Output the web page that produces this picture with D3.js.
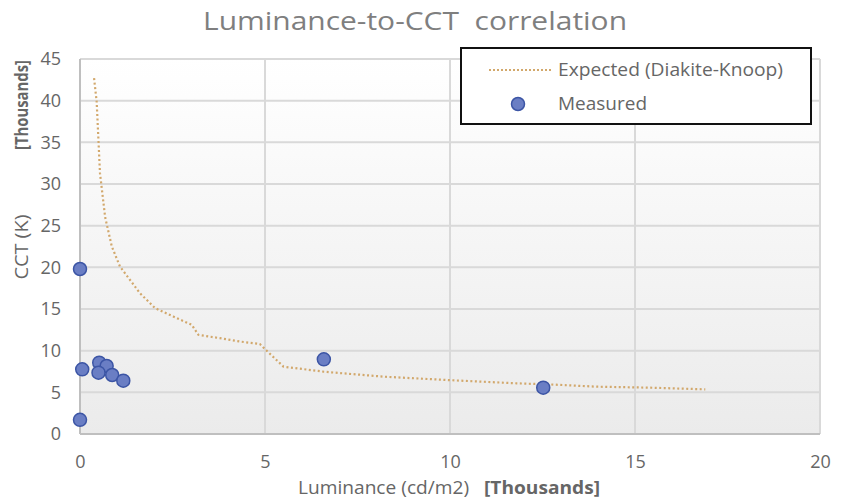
<!DOCTYPE html>
<html><head><meta charset="utf-8">
<script src="https://cdn.jsdelivr.net/npm/d3@7"></script>
<style>body{margin:0;background:#fff}svg{display:block}text{white-space:pre}</style>
</head><body>
<script>
// Data (thousands)
const expectedX = [0.38,0.45,0.54,0.68,0.86,1.08,1.62,2.03,2.52,3.02,3.2,3.78,4.32,4.86,4.95,5.5,6.58,8.2,9.91,11.8,12.7,13.96,15.4,16.9];
const expectedY = [42.7,39.9,31.3,26.0,22.5,20.1,16.9,15.1,14.1,13.1,11.9,11.5,11.1,10.8,10.4,8.08,7.48,6.88,6.48,6.08,5.95,5.68,5.56,5.36];
const measuredX = [0.0,0.0,0.06,0.52,0.72,0.50,0.87,1.17,6.59,12.52];
const measuredY = [19.8,1.7,7.76,8.56,8.16,7.36,7.08,6.4,8.96,5.56];
const xTicks = [0,5,10,15,20];
const yTicks = [0,5,10,15,20,25,30,35,40,45];
const seriesNames = ["Expected (Diakite-Knoop)","Measured"];

const W=843,H=501;
const svg=d3.select("body").append("svg").attr("width",W).attr("height",H);
const defs=svg.append("defs");
const g=defs.append("linearGradient").attr("id","bg").attr("x1",0).attr("y1",0).attr("x2",0).attr("y2",1);
g.append("stop").attr("offset","0%").attr("stop-color","#ffffff");
g.append("stop").attr("offset","100%").attr("stop-color","#ebebeb");

const x=d3.scaleLinear().domain([0,20]).range([80,820]);
const y=d3.scaleLinear().domain([0,45]).range([434,59]);
const font="'Open Sans', 'Liberation Sans', sans-serif";

svg.append("rect").attr("x",x(0)).attr("y",y(45)).attr("width",x(20)-x(0)).attr("height",y(0)-y(45)).attr("fill","url(#bg)");

// grid
svg.append("g").selectAll("line").data(yTicks).join("line")
  .attr("x1",x(0)).attr("x2",x(20)).attr("y1",d=>y(d)).attr("y2",d=>y(d))
  .attr("stroke","#d9d9d9").attr("stroke-width",2);
svg.append("g").selectAll("line").data(xTicks).join("line")
  .attr("y1",y(0)).attr("y2",y(45)).attr("x1",d=>x(d)).attr("x2",d=>x(d))
  .attr("stroke","#d9d9d9").attr("stroke-width",2);
// axis lines
svg.append("line").attr("x1",x(0)).attr("x2",x(0)).attr("y1",y(0)).attr("y2",y(45)).attr("stroke","#bfbfbf").attr("stroke-width",2);
svg.append("line").attr("x1",x(0)).attr("x2",x(20)).attr("y1",y(0)).attr("y2",y(0)).attr("stroke","#bfbfbf").attr("stroke-width",2);

// axes labels via d3 axes
const xa=svg.append("g").attr("transform",`translate(0,${y(0)})`).call(d3.axisBottom(x).tickValues(xTicks).tickSize(0).tickPadding(21).tickFormat(d3.format("d")));
const ya=svg.append("g").attr("transform",`translate(${x(0)},0)`).call(d3.axisLeft(y).tickValues(yTicks).tickSize(0).tickPadding(19).tickFormat(d3.format("d")));
[xa,ya].forEach(a=>{a.select(".domain").remove();a.selectAll("text").attr("font-family",font).attr("font-size",18).attr("fill","#666");});

// title
svg.append("text").attr("x",415).attr("y",30).attr("text-anchor","middle").attr("font-family",font)
  .attr("font-size",25).attr("fill","#7f7f7f").attr("textLength",424).attr("lengthAdjust","spacingAndGlyphs")
  .text("Luminance-to-CCT\u00a0\u00a0correlation");

// x title
const xt=svg.append("text").attr("x",449).attr("y",494).attr("text-anchor","middle").attr("font-family",font).attr("font-size",18).attr("fill","#666")
  .attr("textLength",302).attr("lengthAdjust","spacingAndGlyphs");
xt.append("tspan").text("Luminance (cd/m2)\u00a0\u00a0\u00a0");
xt.append("tspan").attr("font-weight","bold").text("[Thousands]");

// y titles
svg.append("text").attr("transform","translate(28,247) rotate(-90)").attr("text-anchor","middle").attr("font-family",font).attr("font-size",18).attr("fill","#666")
  .attr("textLength",65).attr("lengthAdjust","spacingAndGlyphs").text("CCT (K)");
svg.append("text").attr("transform","translate(28,105) rotate(-90)").attr("text-anchor","middle").attr("font-family",font).attr("font-size",17).attr("font-weight","bold").attr("fill","#666")
  .attr("textLength",90).attr("lengthAdjust","spacingAndGlyphs").text("[Thousands]");

// expected line
const line=d3.line().x(d=>x(d[0])).y(d=>y(d[1]));
svg.append("path").datum(expectedX.map((v,i)=>[v,expectedY[i]])).attr("d",line)
  .attr("fill","none").attr("stroke","#d2a86c").attr("stroke-width",2.2).attr("stroke-dasharray","2,2.5");

// measured
svg.append("g").selectAll("circle").data(measuredX.map((v,i)=>[v,measuredY[i]])).join("circle")
  .attr("cx",d=>x(d[0])).attr("cy",d=>y(d[1])).attr("r",6.5)
  .attr("fill","#6a7ec4").attr("stroke","#3c55a5").attr("stroke-width",1.5);

// legend
svg.append("rect").attr("x",461).attr("y",48).attr("width",350).attr("height",76).attr("fill","#fff").attr("stroke","#111").attr("stroke-width",2);
svg.append("line").attr("x1",489).attr("x2",553).attr("y1",70).attr("y2",70).attr("stroke","#d2a86c").attr("stroke-width",2).attr("stroke-dasharray","2,2");
svg.append("circle").attr("cx",518).attr("cy",104).attr("r",6.5).attr("fill","#6a7ec4").attr("stroke","#3c55a5").attr("stroke-width",1.5);
const legW=[225,89];
svg.selectAll(".lt").data(seriesNames).join("text").attr("class","lt")
  .attr("x",558).attr("y",(d,i)=>i?110:76).attr("font-family",font).attr("font-size",19).attr("fill","#666")
  .attr("textLength",(d,i)=>legW[i]).attr("lengthAdjust","spacingAndGlyphs").text(d=>d);
</script>
</body></html>
